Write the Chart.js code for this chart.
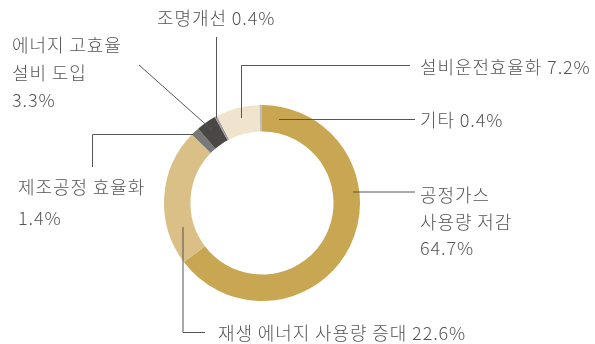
<!DOCTYPE html>
<html lang="ko">
<head>
<meta charset="utf-8">
<title>온실가스 감축 활동</title>
<script src="https://cdn.jsdelivr.net/npm/chart.js@4.4.1/dist/chart.umd.min.js"></script>
<style>
    html, body { margin: 0; padding: 0; background: #fff; }
    #wrap { width: 595px; height: 344px; }
</style>
</head>
<body>
<div id="wrap"><canvas id="reduceChart" width="595" height="344"></canvas></div>
<script>
// 감축 활동별 비중 (%) - 12시 방향에서 시계방향 순서
const categories = ['공정가스 사용량 저감', '재생 에너지 사용량 증대', '제조공정 효율화', '에너지 고효율 설비 도입', '조명개선', '설비운전효율화', '기타'];
const shares = [64.7, 22.6, 1.4, 3.3, 0.4, 7.2, 0.4];
const sliceColors = ['#c9a651', '#dac087', '#787878', '#4b4745', '#9d9d9d', '#f0e4cd', '#bcbcbc'];

// 라벨 줄바꿈 (값은 shares 에서 가져옴)
const labelLines = [
    ['공정가스', '사용량 저감', '{v}'],
    ['재생 에너지 사용량 증대 {v}'],
    ['제조공정 효율화', '{v}'],
    ['에너지 고효율', '설비 도입', '{v}'],
    ['조명개선 {v}'],
    ['설비운전효율화 {v}'],
    ['기타 {v}']
];

// 라벨 위치 / 지시선 경로
const labelLayout = [
    { x: 420, y: [195, 222, 248], path: [[415, 192], [353, 192]] },
    { x: 218, y: [333], path: [[183, 227], [183, 332.5], [205, 332.5]] },
    { x: 18, y: [187, 218], path: [[92.5, 167], [92.5, 134.5], [193, 134.5]] },
    { x: 12, y: [45, 73, 100], path: [[139, 65], [212, 130]] },
    { x: 157, y: [18], path: [[216.5, 37], [216.5, 118]] },
    { x: 420, y: [67], path: [[410, 65.5], [241.5, 65.5], [241.5, 118]] },
    { x: 420, y: [120], path: [[415, 119.5], [279, 119.5]] }
];

const leaderLabels = {
    id: 'leaderLabels',
    afterDraw(chart) {
        const c = chart.ctx;
        c.save();
        c.strokeStyle = '#555555';
        c.lineWidth = 1;
        labelLayout.forEach(function (item) {
            c.beginPath();
            item.path.forEach(function (p, i) {
                if (i == 0) c.moveTo(p[0], p[1]);
                else c.lineTo(p[0], p[1]);
            });
            c.stroke();
        });
        c.fillStyle = '#555555';
        c.font = '300 18px "Noto Sans CJK KR", "Noto Sans", sans-serif';
        c.letterSpacing = '0.9px';
        c.textBaseline = 'middle';
        c.textAlign = 'left';
        labelLines.forEach(function (lines, i) {
            lines.forEach(function (line, j) {
                const text = line.replace('{v}', shares[i].toFixed(1) + '%');
                c.fillText(text, labelLayout[i].x, labelLayout[i].y[j]);
            });
        });
        c.restore();
    }
};

var ctx = document.getElementById('reduceChart').getContext('2d');
var reduceChart = new Chart(ctx, {
    type: 'doughnut',
    data: {
        labels: categories,
        datasets: [{
            data: shares,
            backgroundColor: sliceColors,
            borderWidth: 0
        }]
    },
    options: {
        responsive: false,
        animation: false,
        cutout: '73%',
        layout: {
            padding: { left: 164, right: 235, top: 105, bottom: 43 }
        },
        plugins: {
            legend: { display: false },
            tooltip: { enabled: false }
        }
    },
    plugins: [leaderLabels]
});
</script>
</body>
</html>
